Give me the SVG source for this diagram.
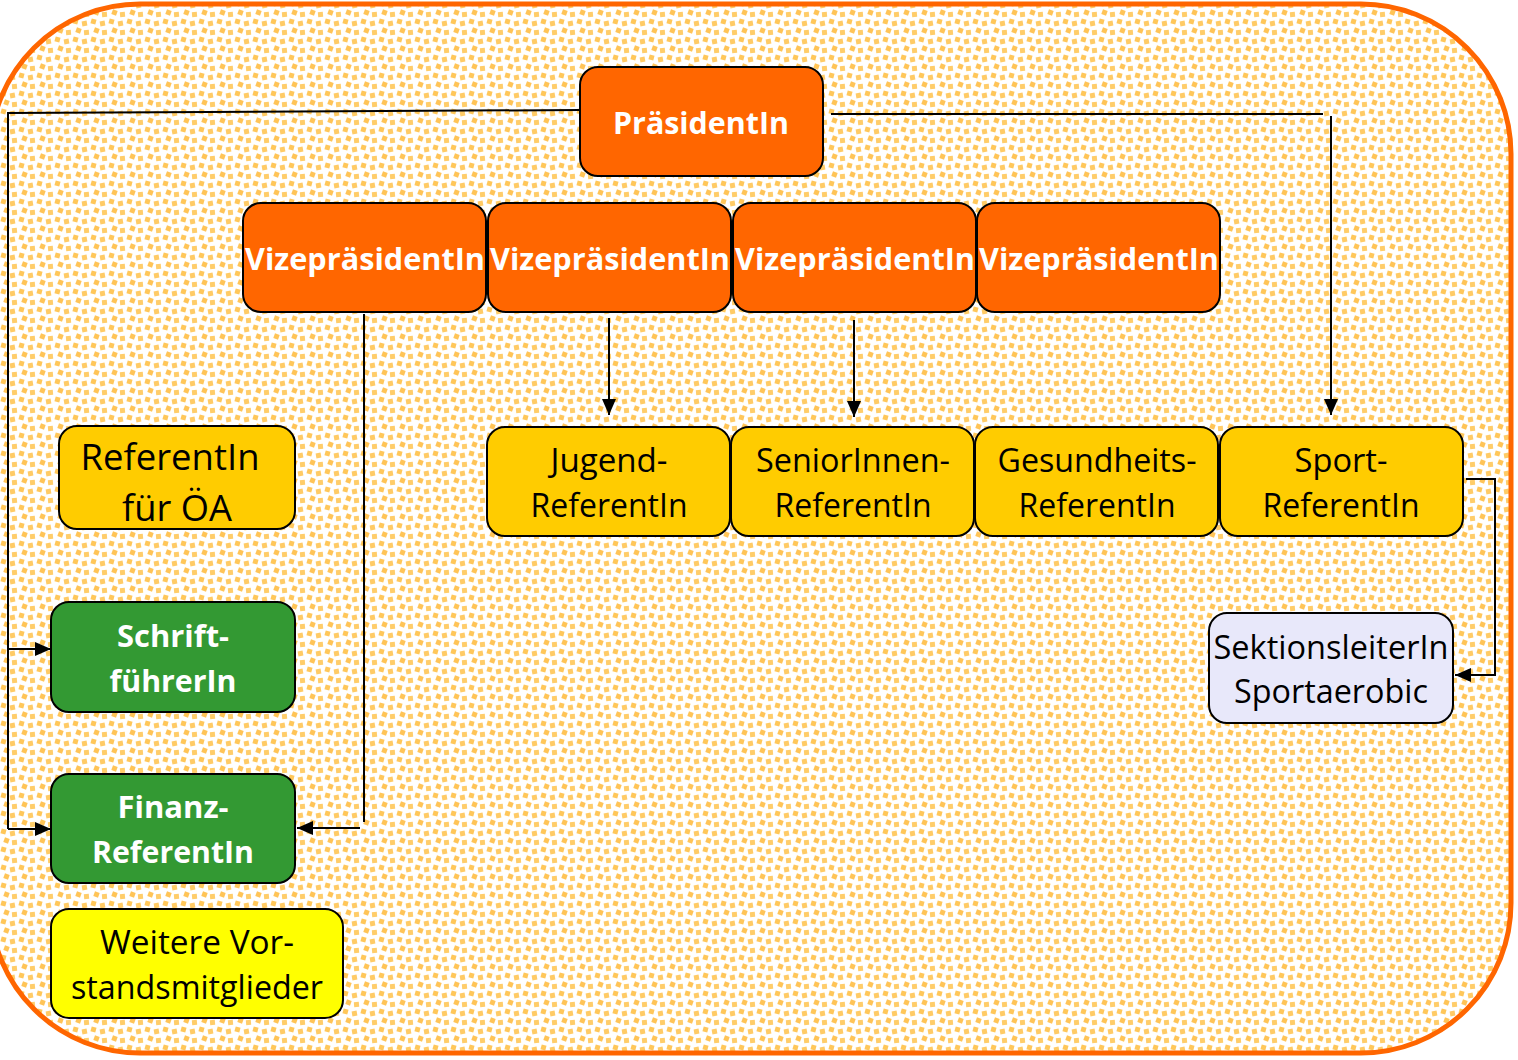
<svg xmlns="http://www.w3.org/2000/svg" width="1518" height="1060" viewBox="0 0 1518 1060">
<defs>
<pattern id="dots" width="18" height="18" patternUnits="userSpaceOnUse">
<rect width="18" height="18" fill="#FFFFFF"/>
<rect x="1" y="1" width="5" height="5" fill="#FFC75A" transform="rotate(15 3.5 3.5)"/>
<rect x="10" y="3" width="5" height="5" fill="#FFCB66" transform="rotate(-10 12.5 5.5)"/>
<rect x="4" y="10" width="5" height="5" fill="#FFC457" transform="rotate(20 6.5 12.5)"/>
<rect x="12" y="12" width="5" height="5" fill="#FFCD6A" transform="rotate(-5 14.5 14.5)"/>
</pattern>
<marker id="arrow" viewBox="0 0 16 14" refX="16" refY="7" markerWidth="16" markerHeight="14" orient="auto" markerUnits="userSpaceOnUse">
<path d="M0,0 L16,7 L0,14 Z" fill="#000"/>
</marker>
</defs>
<style>
.box{stroke:#000;stroke-width:2}
.or{fill:#FF6600}
.ye{fill:#FFCC00}
.gr{fill:#339933}
.yl{fill:#FFFF00}
.lv{fill:#E8E8FA}
.tw{font-family:"Open Sans","Noto Sans",sans-serif;font-weight:bold;fill:#FFFFFF;text-anchor:middle}
.tb{font-family:"Open Sans","Noto Sans",sans-serif;fill:#000000;text-anchor:middle}
.ln{fill:none;stroke:#000;stroke-width:2}
</style>
<rect x="-10" y="4" width="1521" height="1049" rx="150" ry="150" fill="url(#dots)" stroke="#FF6600" stroke-width="5"/>
<g id="connectors">
<polyline class="ln" points="580,110 8,113 8,829"/>
<line class="ln" x1="8" y1="649" x2="51" y2="649" marker-end="url(#arrow)"/>
<line class="ln" x1="8" y1="829" x2="51" y2="829" marker-end="url(#arrow)"/>
<line class="ln" x1="831" y1="114" x2="1323" y2="114"/>
<line class="ln" x1="1331" y1="116" x2="1331" y2="415" marker-end="url(#arrow)"/>
<line class="ln" x1="364" y1="314" x2="364" y2="822"/>
<line class="ln" x1="360" y1="828" x2="297" y2="828" marker-end="url(#arrow)"/>
<line class="ln" x1="609" y1="318" x2="609" y2="415" marker-end="url(#arrow)"/>
<line class="ln" x1="854" y1="320" x2="854" y2="417" marker-end="url(#arrow)"/>
<polyline class="ln" points="1466,479 1495,479 1495,675 1455,675" marker-end="url(#arrow)"/>
</g>
<g id="praesident">
<rect class="box or" x="580" y="67" width="243" height="109" rx="18"/>
<text class="tw" x="701" y="134" font-size="31" textLength="176" lengthAdjust="spacingAndGlyphs">PräsidentIn</text>
</g>
<g id="vize1">
<rect class="box or" x="243" y="203" width="243" height="109" rx="18"/>
<text class="tw" x="365" y="270" font-size="31" textLength="240" lengthAdjust="spacingAndGlyphs">VizepräsidentIn</text>
</g>
<g id="vize2">
<rect class="box or" x="488" y="203" width="243" height="109" rx="18"/>
<text class="tw" x="610" y="270" font-size="31" textLength="240" lengthAdjust="spacingAndGlyphs">VizepräsidentIn</text>
</g>
<g id="vize3">
<rect class="box or" x="733" y="203" width="243" height="109" rx="18"/>
<text class="tw" x="855" y="270" font-size="31" textLength="240" lengthAdjust="spacingAndGlyphs">VizepräsidentIn</text>
</g>
<g id="vize4">
<rect class="box or" x="977" y="203" width="243" height="109" rx="18"/>
<text class="tw" x="1099" y="270" font-size="31" textLength="240" lengthAdjust="spacingAndGlyphs">VizepräsidentIn</text>
</g>
<g id="jugend">
<rect class="box ye" x="487" y="427" width="243" height="109" rx="18"/>
<text class="tb" x="609" y="472" font-size="32" textLength="117" lengthAdjust="spacingAndGlyphs">Jugend-</text>
<text class="tb" x="609" y="517" font-size="32" textLength="157" lengthAdjust="spacingAndGlyphs">ReferentIn</text>
</g>
<g id="senioren">
<rect class="box ye" x="731" y="427" width="243" height="109" rx="18"/>
<text class="tb" x="853" y="472" font-size="32" textLength="194" lengthAdjust="spacingAndGlyphs">SeniorInnen-</text>
<text class="tb" x="853" y="517" font-size="32" textLength="157" lengthAdjust="spacingAndGlyphs">ReferentIn</text>
</g>
<g id="gesundheit">
<rect class="box ye" x="975" y="427" width="243" height="109" rx="18"/>
<text class="tb" x="1097" y="472" font-size="32" textLength="199" lengthAdjust="spacingAndGlyphs">Gesundheits-</text>
<text class="tb" x="1097" y="517" font-size="32" textLength="157" lengthAdjust="spacingAndGlyphs">ReferentIn</text>
</g>
<g id="sport">
<rect class="box ye" x="1220" y="427" width="243" height="109" rx="18"/>
<text class="tb" x="1341" y="472" font-size="32" textLength="93" lengthAdjust="spacingAndGlyphs">Sport-</text>
<text class="tb" x="1341" y="517" font-size="32" textLength="157" lengthAdjust="spacingAndGlyphs">ReferentIn</text>
</g>
<g id="sektion">
<rect class="box lv" x="1209" y="613" width="244" height="110" rx="18"/>
<text class="tb" x="1331" y="659" font-size="32" textLength="235" lengthAdjust="spacingAndGlyphs">SektionsleiterIn</text>
<text class="tb" x="1331" y="703" font-size="32" textLength="194" lengthAdjust="spacingAndGlyphs">Sportaerobic</text>
</g>
<g id="oea">
<rect class="box ye" x="59" y="426" width="236" height="103" rx="18"/>
<text class="tb" x="170" y="470" font-size="37" textLength="179" lengthAdjust="spacingAndGlyphs">ReferentIn</text>
<text class="tb" x="177" y="521" font-size="37" textLength="110" lengthAdjust="spacingAndGlyphs">für ÖA</text>
</g>
<g id="schrift">
<rect class="box gr" x="51" y="602" width="244" height="110" rx="18"/>
<text class="tw" x="173" y="647" font-size="31" textLength="112" lengthAdjust="spacingAndGlyphs">Schrift-</text>
<text class="tw" x="173" y="692" font-size="31" textLength="127" lengthAdjust="spacingAndGlyphs">führerIn</text>
</g>
<g id="finanz">
<rect class="box gr" x="51" y="774" width="244" height="109" rx="18"/>
<text class="tw" x="173" y="818" font-size="31" textLength="111" lengthAdjust="spacingAndGlyphs">Finanz-</text>
<text class="tw" x="173" y="863" font-size="31" textLength="162" lengthAdjust="spacingAndGlyphs">ReferentIn</text>
</g>
<g id="weitere">
<rect class="box yl" x="51" y="909" width="292" height="109" rx="18"/>
<text class="tb" x="197" y="954" font-size="32" textLength="194" lengthAdjust="spacingAndGlyphs">Weitere Vor-</text>
<text class="tb" x="197" y="999" font-size="32" textLength="252" lengthAdjust="spacingAndGlyphs">standsmitglieder</text>
</g>
</svg>
